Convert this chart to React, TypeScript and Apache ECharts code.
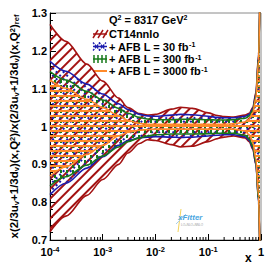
import React, { useEffect, useRef } from "react";
import * as echarts from "echarts";

// x grid of the curves
const xPoints = [1e-4, 2e-4, 5e-4, 1e-3, 2e-3, 3e-3, 5e-3, 7e-3, 1e-2, 2e-2, 3e-2, 5e-2, 0.1, 0.15, 0.2, 0.3, 0.5, 0.6, 0.7, 0.8, 0.9, 0.95];

const ct14Upper = [1.27, 1.225, 1.165, 1.12, 1.075, 1.05, 1.034, 1.03, 1.032, 1.046, 1.051, 1.048, 1.036, 1.029, 1.026, 1.025, 1.03, 1.035, 1.05, 1.09, 1.19, 1.33];
const ct14Lower = [0.722, 0.763, 0.818, 0.86, 0.9, 0.93, 0.955, 0.965, 0.963, 0.952, 0.946, 0.948, 0.96, 0.968, 0.972, 0.975, 0.97, 0.96, 0.94, 0.9, 0.81, 0.68];

const afb30Upper = [1.172, 1.146, 1.112, 1.086, 1.06, 1.045, 1.032, 1.028, 1.027, 1.03, 1.032, 1.031, 1.027, 1.024, 1.023, 1.023, 1.027, 1.032, 1.047, 1.085, 1.185, 1.33];
const afb30Lower = [0.82, 0.85, 0.89, 0.92, 0.95, 0.963, 0.97, 0.972, 0.973, 0.972, 0.971, 0.972, 0.975, 0.977, 0.978, 0.978, 0.973, 0.963, 0.943, 0.9, 0.8, 0.68];

const afb300Upper = [1.145, 1.123, 1.093, 1.07, 1.048, 1.035, 1.024, 1.02, 1.018, 1.018, 1.019, 1.019, 1.018, 1.017, 1.017, 1.018, 1.022, 1.028, 1.043, 1.08, 1.18, 1.33];
const afb300Lower = [0.843, 0.867, 0.898, 0.922, 0.946, 0.96, 0.97, 0.975, 0.978, 0.98, 0.98, 0.98, 0.981, 0.982, 0.982, 0.982, 0.977, 0.967, 0.947, 0.905, 0.805, 0.68];

const afb3000Upper = [1.123, 1.101, 1.072, 1.05, 1.029, 1.016, 1.008, 1.006, 1.006, 1.006, 1.006, 1.006, 1.006, 1.006, 1.006, 1.007, 1.012, 1.02, 1.037, 1.075, 1.175, 1.33];
const afb3000Lower = [0.869, 0.893, 0.926, 0.95, 0.975, 0.985, 0.99, 0.992, 0.993, 0.993, 0.993, 0.993, 0.993, 0.993, 0.993, 0.993, 0.988, 0.978, 0.958, 0.915, 0.815, 0.68];

const xMinorTicks = [2e-4, 3e-4, 4e-4, 5e-4, 6e-4, 7e-4, 8e-4, 9e-4, 2e-3, 3e-3, 4e-3, 5e-3, 6e-3, 7e-3, 8e-3, 9e-3, 2e-2, 3e-2, 4e-2, 5e-2, 6e-2, 7e-2, 8e-2, 9e-2, 0.2, 0.3, 0.4, 0.5, 0.6, 0.7, 0.8, 0.9];

const legendTitle = "Q{sup|2} = 8317 GeV{sup|2}";
const legendLabels = ["CT14nnlo", "+ AFB L = 30 fb{sup|-1}", "+ AFB L = 300 fb{sup|-1}", "+ AFB L = 3000 fb{sup|-1}"];

const RED = "#a31212";
const BLUE = "#1c1cae";
const GREEN = "#16781a";
const ORANGE = "#ff8a2a";
const FONT = "Liberation Sans, Arial, sans-serif";

const bands = [
  { key: "ct", upper: ct14Upper, lower: ct14Lower, color: RED, decal: { symbol: "rect", symbolSize: 1, dashArrayX: [1, 0], dashArrayY: [1.6, 4.2], rotation: -Math.PI / 4, color: RED } },
  { key: "b30", upper: afb30Upper, lower: afb30Lower, color: BLUE, decal: { symbol: "rect", symbolSize: 1, dashArrayX: [1.6, 2.4], dashArrayY: [1.6, 2.4], rotation: Math.PI / 4, color: BLUE } },
  { key: "b300", upper: afb300Upper, lower: afb300Lower, color: GREEN, decal: { symbol: "rect", symbolSize: 1, dashArrayX: [1.4, 3.2], dashArrayY: [3, 1.5], rotation: 0, color: GREEN } },
  { key: "b3000", upper: afb3000Upper, lower: afb3000Lower, color: ORANGE, decal: { symbol: "rect", symbolSize: 1, dashArrayX: [1, 0], dashArrayY: [1.5, 2.6], rotation: 0, color: ORANGE } },
];

function expLabel(v: number): string {
  const e = Math.round(Math.log10(v));
  if (e === 0) return "{b|1}";
  return "{b|10}{s|" + e + "}";
}

export default function App() {
  const ref = useRef<HTMLDivElement>(null);
  useEffect(() => {
    if (!ref.current) return;
    const chart = echarts.init(ref.current, undefined, { renderer: "svg" });
    const series: any[] = [];
    bands.forEach((b) => {
      // data stored as [y, x] so that the first (stacked) dimension is y
      series.push({
        type: "line",
        stack: b.key,
        dimensions: ["val", "xv"],
        encode: { x: 1, y: 0 },
        data: xPoints.map((x, i) => [b.lower[i], x]),
        symbol: "none",
        smooth: 0.3,
        smoothMonotone: "x",
        lineStyle: { color: b.color, width: 1.6 },
        z: 3,
      });
      series.push({
        type: "line",
        stack: b.key,
        dimensions: ["val", "xv"],
        encode: { x: 1, y: 0 },
        data: xPoints.map((x, i) => [+(b.upper[i] - b.lower[i]).toFixed(4), x]),
        symbol: "none",
        smooth: 0.3,
        smoothMonotone: "x",
        lineStyle: { color: b.color, width: 1.6 },
        itemStyle: { color: b.color, decal: b.decal },
        areaStyle: { color: "rgba(0,0,0,0)", opacity: 1 },
        z: 3,
      });
    });
    series.push({
      type: "custom",
      silent: true,
      z: 10,
      data: xMinorTicks.map((x) => [x, 0.7]),
      renderItem: (_p: any, api: any) => {
        const pt = api.coord([api.value(0), 0.7]);
        return {
          type: "line",
          shape: { x1: pt[0], y1: pt[1], x2: pt[0], y2: pt[1] - 3 },
          style: { stroke: "#000", lineWidth: 1 },
        };
      },
    });

    const rowY = [34, 46.5, 59, 71];
    const sx = 93, sw = 14, sh = 8;
    const legendGraphics: any[] = [];
    legendGraphics.push({
      type: "text", left: 109, top: 14,
      style: { text: legendTitle, font: `bold 11px ${FONT}`, fill: "#000", rich: { sup: { fontSize: 7, fontWeight: "bold", verticalAlign: "top", lineHeight: 7, fontFamily: FONT } } },
    });
    legendLabels.forEach((t, i) => {
      legendGraphics.push({
        type: "text", x: 109, y: rowY[i], style: { text: t, font: `bold 11px ${FONT}`, fill: "#000", verticalAlign: "middle", rich: { sup: { fontSize: 7, fontWeight: "bold", verticalAlign: "top", lineHeight: 7, fontFamily: FONT } } },
      });
    });
    const y0 = rowY[0];
    [0, 5, 10].forEach((dx) => legendGraphics.push({ type: "line", shape: { x1: sx + dx, y1: y0 + sh / 2, x2: sx + dx + sh - 3, y2: y0 - sh / 2 }, style: { stroke: RED, lineWidth: 1.5 } }));
    legendGraphics.push({ type: "line", shape: { x1: sx, y1: y0, x2: sx + sw, y2: y0 }, style: { stroke: RED, lineWidth: 1.5 } });
    const y1 = rowY[1];
    [0, 6].forEach((dx) => {
      legendGraphics.push({ type: "line", shape: { x1: sx + dx, y1: y1 - sh / 2, x2: sx + dx + 7, y2: y1 + sh / 2 }, style: { stroke: BLUE, lineWidth: 1.3, lineDash: [2, 1] } });
      legendGraphics.push({ type: "line", shape: { x1: sx + dx, y1: y1 + sh / 2, x2: sx + dx + 7, y2: y1 - sh / 2 }, style: { stroke: BLUE, lineWidth: 1.3, lineDash: [2, 1] } });
    });
    legendGraphics.push({ type: "line", shape: { x1: sx, y1: y1, x2: sx + sw, y2: y1 }, style: { stroke: BLUE, lineWidth: 1.5 } });
    const y2 = rowY[2];
    [1, 5, 9, 13].forEach((dx) => legendGraphics.push({ type: "line", shape: { x1: sx + dx, y1: y2 - sh / 2, x2: sx + dx, y2: y2 + sh / 2 }, style: { stroke: GREEN, lineWidth: 1.5 } }));
    legendGraphics.push({ type: "line", shape: { x1: sx, y1: y2, x2: sx + sw, y2: y2 }, style: { stroke: GREEN, lineWidth: 1.5 } });
    const y3 = rowY[3];
    legendGraphics.push({ type: "line", shape: { x1: sx, y1: y3, x2: sx + sw, y2: y3 }, style: { stroke: ORANGE, lineWidth: 2 } });

    legendGraphics.push({ type: "text", x: 245, y: 252, style: { text: "x", font: `bold 12px ${FONT}`, fill: "#000" } });
    legendGraphics.push({ type: "line", shape: { x1: 181, y1: 209, x2: 178, y2: 232 }, style: { stroke: "#f2d35c", lineWidth: 1 } });
    legendGraphics.push({ type: "line", shape: { x1: 176, y1: 224, x2: 186, y2: 214 }, style: { stroke: "#a8cdea", lineWidth: 1 } });
    legendGraphics.push({ type: "text", x: 178, y: 213, style: { text: "xFitter", font: `italic bold 8px ${FONT}`, fill: "#4aa6df" } });
    legendGraphics.push({ type: "text", x: 181, y: 223, style: { text: "LO+NLO+NNLO", font: `3px ${FONT}`, fill: "#999" } });

    chart.setOption({
      animation: false,
      grid: { left: 42, right: 13, top: 13, bottom: 26, show: true, borderColor: "#8a8a8a", borderWidth: 1 },
      xAxis: {
        type: "log",
        logBase: 10,
        min: 1e-4,
        max: 1,
        axisLine: { show: true, lineStyle: { color: "#000", width: 1 } },
        axisTick: { show: true, inside: true, length: 6, lineStyle: { color: "#000" } },
        minorTick: { show: false },
        splitLine: { show: false },
        axisLabel: {
          margin: 5,
          formatter: (v: number) => expLabel(v),
          showMinLabel: true,
          showMaxLabel: true,
          rich: {
            b: { fontSize: 11, fontWeight: "bold", fontFamily: FONT, color: "#000", lineHeight: 13 },
            s: { fontSize: 7.5, fontWeight: "bold", fontFamily: FONT, color: "#000", verticalAlign: "top", lineHeight: 8 },
          },
        },
      },
      yAxis: {
        type: "value",
        min: 0.7,
        max: 1.3,
        interval: 0.1,
        axisLine: { show: true, lineStyle: { color: "#000", width: 1 } },
        axisTick: { show: true, inside: true, length: 6, lineStyle: { color: "#000" } },
        minorTick: { show: true, splitNumber: 5, length: 3, lineStyle: { color: "#000" } },
        splitLine: { show: false },
        axisLabel: { margin: 3, fontSize: 11, fontWeight: "bold", fontFamily: FONT, color: "#000" },
        name: "x(2/3u{sub|v}+1/3d{sub|v})(x,Q{sup|2})/x(2/3u{sub|v}+1/3d{sub|v})(x,Q{sup|2}){sub|ref}",
        nameLocation: "middle",
        nameRotate: 90,
        nameGap: 30,
        nameTextStyle: {
          fontSize: 11.5, fontWeight: "bold", fontFamily: FONT, color: "#000",
          rich: {
            sub: { fontSize: 7.5, fontWeight: "bold", fontFamily: FONT, color: "#000", verticalAlign: "bottom", lineHeight: 7 },
            sup: { fontSize: 7.5, fontWeight: "bold", fontFamily: FONT, color: "#000", verticalAlign: "top", lineHeight: 7 },
          },
        },
      },
      series,
      graphic: legendGraphics,
    });
    return () => chart.dispose();
  }, []);
  return <div ref={ref} style={{ position: "fixed", left: 0, top: 0, width: 274, height: 266, background: "#fff" }} />;
}
